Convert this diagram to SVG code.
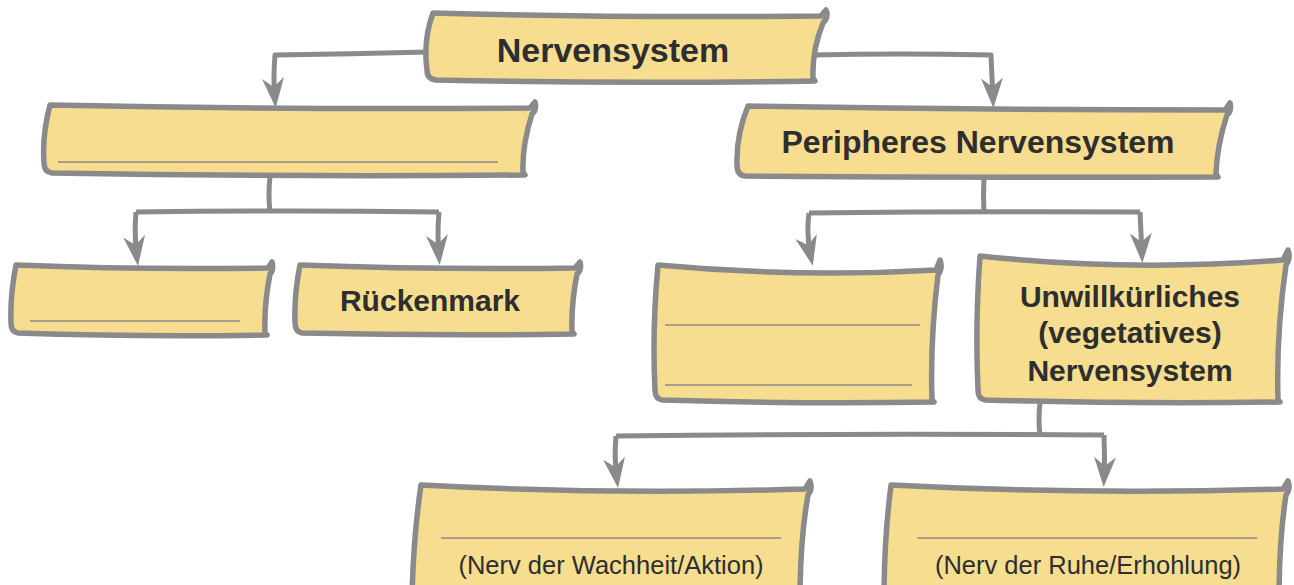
<svg xmlns="http://www.w3.org/2000/svg" width="1294" height="585" viewBox="0 0 1294 585">
<style>
.box{fill:#F6DD8F;stroke:#8A8A8A;stroke-width:5.5;stroke-linejoin:round;stroke-linecap:round}
.rule{stroke:#8A8A8A;stroke-width:1.6;fill:none}
.con{fill:none;stroke:#8A8A8A;stroke-width:5;stroke-linejoin:round}
.t{font-family:"Liberation Sans",Arial,sans-serif;font-weight:bold;fill:#2E2E2E;text-anchor:middle}
.s{font-family:"Liberation Sans",Arial,sans-serif;fill:#2E2E2E;text-anchor:middle;font-size:25.5px}
</style>
<defs>
<marker id="ah" markerUnits="userSpaceOnUse" viewBox="0 0 30 22" refX="22" refY="11" markerWidth="30" markerHeight="22" orient="auto">
<path d="M0,0 L30,11 L0,22 L9,11 Z" fill="#8A8A8A"/>
</marker>
</defs>
<g id="connectors">
<path class="con" d="M428,52 Q350,54 275,55 Q273,78 275,100" marker-end="url(#ah)"/>
<path class="con" d="M812,55 Q900,53 991,55 Q992,78 993,100" marker-end="url(#ah)"/>
<path class="con" d="M270,176 Q268,195 270,212"/>
<path class="con" d="M136,212 Q290,210 439,212"/>
<path class="con" d="M136,212 Q134,235 137,258" marker-end="url(#ah)"/>
<path class="con" d="M439,212 Q437,235 439,257" marker-end="url(#ah)"/>
<path class="con" d="M984,178 Q983,195 984,213"/>
<path class="con" d="M809,213 Q975,211 1140,212"/>
<path class="con" d="M809,213 Q806,236 811,258" marker-end="url(#ah)"/>
<path class="con" d="M1140,212 Q1141,234 1142,255" marker-end="url(#ah)"/>
<path class="con" d="M1040,403 Q1038,420 1040,435"/>
<path class="con" d="M616,436 Q860,433 1104,435"/>
<path class="con" d="M616,436 Q614,458 617,480" marker-end="url(#ah)"/>
<path class="con" d="M1104,435 Q1105,457 1104,479" marker-end="url(#ah)"/>
</g>
<g id="node-nervensystem">
<path class="box" d="M433,13 Q620,18 821,16 L826,10 Q829,17 823,23 Q812,50 813,78 L815,81 Q620,84 436,80 Q427,79 427,70 Q423,40 433,13 Z"/>
<text class="t" x="613" y="62" font-size="34">Nervensystem</text>
</g>
<g id="node-zns">
<path class="box" d="M50,105 Q290,110 530,108 L535,102 Q537,110 532,114 Q522,145 523,172 L525,175 Q290,177 52,173 Q44,172 44,163 Q42,135 50,105 Z"/>
<line class="rule" x1="58" y1="162" x2="498" y2="162"/>
</g>
<g id="node-peripheres">
<path class="box" d="M748,106 Q985,110 1225,110 L1230,103 Q1232,111 1227,115 Q1217,145 1216,174 L1218,177 Q985,178 745,176 Q737,175 737,165 Q736,135 748,106 Z"/>
<text class="t" x="978" y="153" font-size="32">Peripheres Nervensystem</text>
</g>
<g id="node-gehirn">
<path class="box" d="M16,265 Q140,270 268,268 L272,262 Q274,270 270,274 Q264,305 265,333 L267,335 Q140,337 18,333 Q11,332 11,323 Q10,295 16,265 Z"/>
<line class="rule" x1="30" y1="321" x2="240" y2="321"/>
</g>
<g id="node-rueckenmark">
<path class="box" d="M300,265 Q436,270 575,268 L580,262 Q582,270 577,274 Q571,305 572,332 L574,334 Q436,336 302,333 Q295,332 295,322 Q294,295 300,265 Z"/>
<text class="t" x="430" y="311" font-size="30">Rückenmark</text>
</g>
<g id="node-willkuerlich">
<path class="box" d="M658,265 Q800,278 936,270 L940,260 Q943,268 938,275 Q930,340 932,400 L934,402 Q795,404 662,400 Q655,399 655,390 Q652,330 658,265 Z"/>
<line class="rule" x1="665" y1="325" x2="920" y2="325"/>
<line class="rule" x1="665" y1="385" x2="912" y2="385"/>
</g>
<g id="node-unwillkuerlich">
<path class="box" d="M980,256 Q1130,272 1283,260 L1288,250 Q1291,258 1286,265 Q1276,335 1278,400 L1280,402 Q1130,404 985,400 Q978,399 978,390 Q975,325 980,256 Z"/>
<text class="t" x="1130" y="307" font-size="30">Unwillkürliches</text>
<text class="t" x="1130" y="343" font-size="30">(vegetatives)</text>
<text class="t" x="1130" y="381" font-size="30">Nervensystem</text>
</g>
<g id="node-sympathikus">
<path class="box" d="M421,485 Q610,495 805,489 L810,481 Q813,489 808,495 Q800,540 800,600 L412,600 Q413,540 421,485 Z"/>
<line class="rule" x1="441" y1="538" x2="781" y2="538"/>
<text class="s" x="611" y="574">(Nerv der Wachheit/Aktion)</text>
</g>
<g id="node-parasympathikus">
<path class="box" d="M891,485 Q1085,495 1283,489 L1288,481 Q1291,489 1286,495 Q1279,540 1279,600 L884,600 Q884,540 891,485 Z"/>
<line class="rule" x1="917" y1="538" x2="1257" y2="538"/>
<text class="s" x="1088" y="574">(Nerv der Ruhe/Erhohlung)</text>
</g>
</svg>
